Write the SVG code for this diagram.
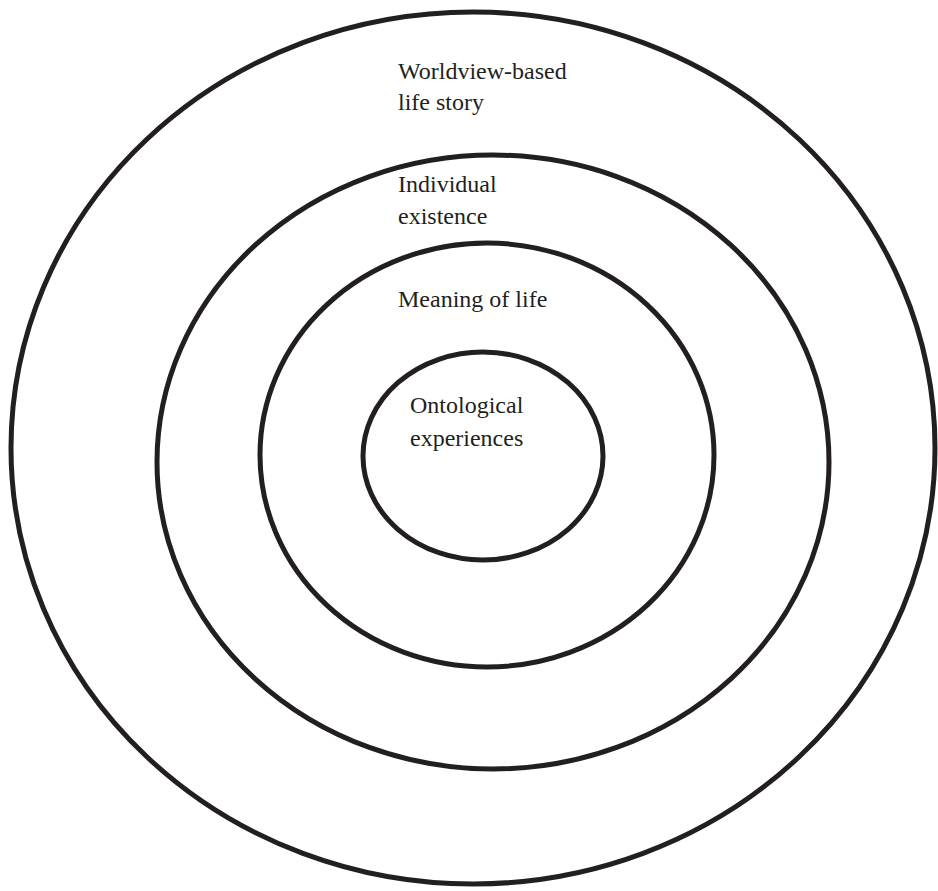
<svg xmlns="http://www.w3.org/2000/svg" width="938" height="891" viewBox="0 0 938 891">
<style>
.ring{fill:none;stroke:#231f20;stroke-width:5}
.lbl{font-family:"Liberation Serif","Times New Roman",serif;font-size:24px;fill:#231f20}
</style>
<rect width="938" height="891" fill="#fff"/>
<g id="ring-worldview">
<ellipse class="ring" cx="473" cy="448" rx="462" ry="436"/>
<text class="lbl" x="398" y="79">Worldview-based</text>
<text class="lbl" x="398" y="110">life story</text>
</g>
<g id="ring-individual">
<ellipse class="ring" cx="493" cy="462" rx="336" ry="307"/>
<text class="lbl" x="398" y="192">Individual</text>
<text class="lbl" x="398" y="224">existence</text>
</g>
<g id="ring-meaning">
<ellipse class="ring" cx="487" cy="455" rx="227" ry="212"/>
<text class="lbl" x="398" y="307">Meaning of life</text>
</g>
<g id="ring-ontological">
<ellipse class="ring" cx="483" cy="456" rx="120" ry="104"/>
<text class="lbl" x="410" y="413">Ontological</text>
<text class="lbl" x="410" y="446">experiences</text>
</g>
<g id="connectors"/>
</svg>
